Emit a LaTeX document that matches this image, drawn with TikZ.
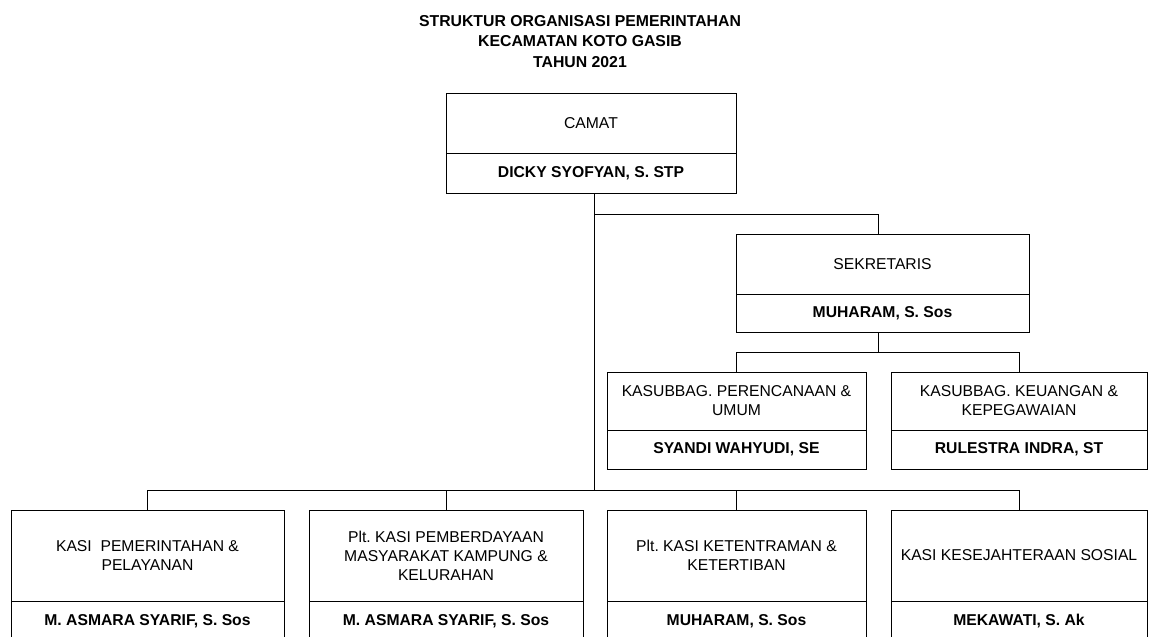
\documentclass[tikz,border=0pt]{standalone}
\usepackage{fontspec}
\setmainfont{Liberation Sans}
\frenchspacing
\begin{document}
\begin{tikzpicture}[x=1pt,y=-1pt,
  box/.style={draw, line width=0.8pt, inner sep=0pt, outer sep=0pt, align=center, font=\fontsize{15.7}{19}\selectfont},
  namebox/.style={box, font=\fontsize{15.7}{19}\selectfont\bfseries},
  link/.style={line width=0.8pt}]
\clip (0,0) rectangle (1149,637);
\node[font=\fontsize{15.8}{20.5}\selectfont\bfseries, align=center] (title) at (580,41.5)
  {STRUKTUR ORGANISASI PEMERINTAHAN\\KECAMATAN KOTO GASIB\\TAHUN 2021};
% Camat
\node[box, minimum width=290pt, minimum height=60pt] (camatT) at (591,123) {CAMAT};
\node[namebox, minimum width=290pt, minimum height=40pt] (camatN) at (591,173) {DICKY SYOFYAN, S. STP};
% Sekretaris
\node[box, minimum width=293pt, minimum height=60pt] (sekT) at (882.5,264) {SEKRETARIS};
\node[namebox, minimum width=293pt, minimum height=38pt] (sekN) at (882.5,313) {MUHARAM, S. Sos};
% Kasubbag
\node[box, minimum width=259pt, minimum height=58pt] (kaT1) at (736.5,401) {KASUBBAG. PERENCANAAN \&\\UMUM};
\node[namebox, minimum width=259pt, minimum height=39pt] (kaN1) at (736.5,449.5) {SYANDI WAHYUDI, SE};
\node[box, minimum width=256pt, minimum height=58pt] (kaT2) at (1019,401) {KASUBBAG. KEUANGAN \&\\KEPEGAWAIAN};
\node[namebox, minimum width=256pt, minimum height=39pt] (kaN2) at (1019,449.5) {RULESTRA INDRA, ST};
% Kasi
\node[box, minimum width=273pt, minimum height=91pt] (ksT1) at (147.5,555.5) {KASI\ \ PEMERINTAHAN \&\\PELAYANAN};
\node[namebox, minimum width=273pt, minimum height=41pt] (ksN1) at (147.5,621.5) {M. ASMARA SYARIF, S. Sos};
\node[box, minimum width=274pt, minimum height=91pt] (ksT2) at (446,555.5) {Plt. KASI PEMBERDAYAAN\\MASYARAKAT KAMPUNG \&\\KELURAHAN};
\node[namebox, minimum width=274pt, minimum height=41pt] (ksN2) at (446,621.5) {M. ASMARA SYARIF, S. Sos};
\node[box, minimum width=259pt, minimum height=91pt] (ksT3) at (736.5,555.5) {Plt. KASI KETENTRAMAN \&\\KETERTIBAN};
\node[namebox, minimum width=259pt, minimum height=41pt] (ksN3) at (736.5,621.5) {MUHARAM, S. Sos};
\node[box, minimum width=256pt, minimum height=91pt] (ksT4) at (1019,555.5) {KASI KESEJAHTERAAN SOSIAL};
\node[namebox, minimum width=256pt, minimum height=41pt] (ksN4) at (1019,621.5) {MEKAWATI, S. Ak};
% junctions
\coordinate (j1) at (594,214);
\coordinate (j2) at (594,490);
\coordinate (s1) at (878,214);
\coordinate (s2) at (878,352);
% connectors
\draw[link] (camatN.south -| j1) -- (j2);
\draw[link] (j1) -- (s1) -- (s1 |- sekT.north);
\draw[link] (s1 |- sekN.south) -- (s2);
\draw[link] (kaT1.north) -- (kaT1.north |- s2) -- (kaT2.north |- s2) -- (kaT2.north);
\draw[link] (ksT1.north) -- (ksT1.north |- j2) -- (ksT4.north |- j2) -- (ksT4.north);
\draw[link] (ksT2.north |- j2) -- (ksT2.north);
\draw[link] (ksT3.north |- j2) -- (ksT3.north);
\end{tikzpicture}
\end{document}
